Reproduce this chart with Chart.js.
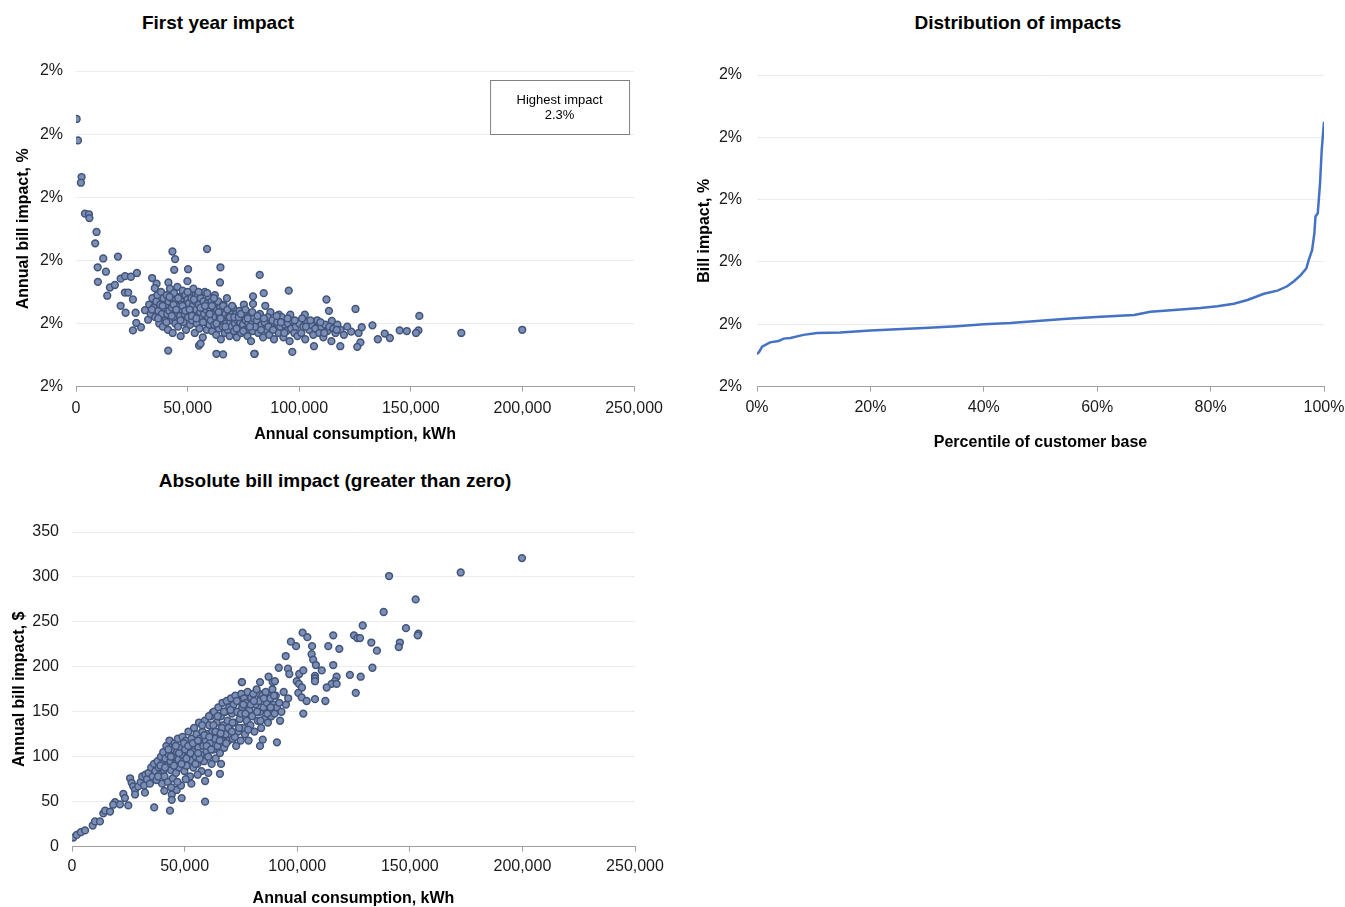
<!DOCTYPE html>
<html>
<head>
<meta charset="utf-8">
<script src="https://cdn.jsdelivr.net/npm/chart.js@4/dist/chart.umd.min.js"></script>
<style>
  html, body { margin: 0; padding: 0; background: #ffffff; overflow: hidden; width: 1345px; height: 907px; }
  .panel { position: absolute; }
  .ttl { position: absolute; transform: translate(-50%, -50%); font-family: 'Liberation Sans', Arial, sans-serif; font-weight: bold; font-size: 19px; color: #000; white-space: nowrap; }
</style>
</head>
<body>
<div class="ttl" style="left:218px; top:23px;">First year impact</div>
<div class="ttl" style="left:1018px; top:23px;">Distribution of impacts</div>
<div class="ttl" style="left:335px; top:481px;">Absolute bill impact (greater than zero)</div>

<canvas id="c1" class="panel" style="left:0px; top:0px;" width="670" height="444"></canvas>
<canvas id="c2" class="panel" style="left:680px; top:0px;" width="700" height="452"></canvas>
<canvas id="c3" class="panel" style="left:0px; top:460px;" width="670" height="448"></canvas>

<script>
// ---------------- DATA ----------------
// First year impact: [annual consumption kWh, annual bill impact %]
const firstYearOutliers = [
  [300,2.324],[900,2.290],[2500,2.232],[2200,2.223],[4000,2.174],[5800,2.173],[6000,2.167],
  [9200,2.145],[8600,2.127],[12200,2.103],[18800,2.106],[9700,2.089],[13400,2.082],[9800,2.066],
  [14000,2.044],[15200,2.057],[17400,2.061],[20000,2.071],[22000,2.075],[24600,2.074],[27300,2.080],
  [21900,2.049],[23400,2.049],[25500,2.038],[20000,2.028],[22200,2.017],[26700,2.017],[25500,1.989],
  [29100,1.994],[27000,2.001],[30900,2.021],[32300,2.006],[34100,2.072],[36100,2.063],[35300,2.056],
  [41400,2.065],[43200,2.114],[44400,2.102],[44000,2.085],[50200,2.086],[49900,2.067],[58700,2.118],
  [64700,2.089],[64500,2.065],[41300,1.957],[55100,1.965],[55800,1.968],[62900,1.952],[65900,1.951],
  [82300,2.077],[80000,1.952],[84100,2.048],[95300,2.052],[79300,2.043],[79300,2.031],[84800,2.028],
  [87100,2.018],[90900,2.014],[96000,2.014],[102500,2.014],[112200,2.038],[113300,2.020],[125200,2.023],
  [114600,2.004],[107600,2.004],[132800,1.997],[123300,1.987],[126600,1.985],[128000,1.994],[138300,1.984],
  [140600,1.977],[145000,1.989],[148200,1.988],[153800,2.012],[153400,1.989],[152300,1.985],[135200,1.975],
  [127400,1.970],[126000,1.963],[118400,1.964],[106600,1.964],[96900,1.955],[79900,1.952],[172600,1.985],
  [199900,1.990]
];
const firstYearCluster = [
  [32800,2.030],[33500,2.015],[34200,2.040],[34800,2.025],[35500,2.010],[36000,2.035],[36400,2.045],[36900,2.020],
  [37300,2.000],[37700,2.030],[38100,2.050],[38500,2.015],[38900,1.995],[39200,2.040],[39600,2.025],[40000,2.005],
  [40300,2.030],[40600,2.045],[40900,2.015],[41200,1.990],[41500,2.035],[41800,2.020],[42100,2.055],[42400,2.005],
  [42700,2.040],[43000,2.025],[43300,1.985],[43600,2.010],[43900,2.048],[44200,2.030],[44500,2.000],[44800,2.038],
  [45100,2.018],[45400,2.058],[45700,1.995],[46000,2.028],[46300,2.042],[46600,2.012],[46900,1.980],[47200,2.035],
  [47500,2.022],[47800,2.052],[48100,2.002],[48400,2.030],[48700,2.015],[49000,2.045],[49300,1.990],[49600,2.025],
  [49900,2.038],[50200,2.010],[50500,2.032],[50800,2.048],[51100,1.998],[51400,2.020],[51700,2.040],[52000,2.005],
  [52300,2.028],[52600,2.055],[52900,2.015],[53200,1.985],[53500,2.035],[53800,2.022],[54100,2.000],[54400,2.045],
  [54700,2.012],[55000,2.030],[55300,1.992],[55600,2.018],[55900,2.040],[56200,2.008],[56500,2.025],[56800,1.978],
  [57100,2.035],[57400,2.015],[57700,2.050],[58000,2.002],[58300,2.022],[58600,1.990],[58900,2.032],[59200,2.010],
  [59500,2.042],[59800,1.998],[60100,2.020],[60400,2.005],[60700,2.035],[61000,1.988],[61300,2.015],[61600,2.028],
  [61900,1.998],[62200,2.045],[62500,2.010],[62800,1.982],[63100,2.022],[63400,2.002],[63700,2.035],[64000,1.992],
  [64300,2.012],[64600,2.025],[64900,1.975],[65200,2.005],[65500,2.018],[65800,1.995],[66100,2.030],[66400,2.008],
  [66700,1.985],[67000,2.015],[67300,2.000],[67600,2.040],[67900,1.990],[68200,2.010],[68500,2.022],[68800,1.980],
  [69100,2.002],[69400,2.015],[69700,1.995],[70000,2.008],[70400,2.025],[70800,1.988],[71200,2.000],[71600,2.015],
  [72000,1.978],[72400,2.005],[72800,1.995],[73200,2.020],[73600,2.002],[74000,1.985],[74400,2.010],[74800,1.998],
  [75200,2.030],[75600,1.990],[76000,2.005],[76400,2.018],[76800,1.980],[77200,2.000],[77600,1.992],[78000,2.012],
  [78400,1.972],[78800,2.002],[79200,1.988],[79600,2.008],[80300,1.995],[81000,2.005],[81700,1.985],[82400,2.015],
  [83100,1.998],[83800,1.978],[84500,2.002],[85200,1.990],[85900,2.010],[86600,1.982],[87300,1.998],[88000,2.005],
  [88700,1.975],[89400,1.992],[90100,2.002],[90800,1.985],[91500,1.995],[92200,2.010],[92900,1.978],[93600,1.998],
  [94300,1.988],[95000,2.000],[95700,1.972],[96400,1.992],[97100,2.004],[97800,1.985],[98500,1.995],[99200,1.980],
  [100000,2.000],[100900,1.985],[101800,1.995],[102700,1.975],[103600,2.002],[104500,1.990],[105400,1.998],[106300,1.982],
  [107200,1.992],[108100,2.005],[109000,1.985],[109900,1.995],[110800,1.978],[111700,1.998],[112600,1.988],[113500,1.995],
  [114400,1.972],[115300,1.992],[116200,1.985],[117100,1.998],[118500,1.990],[120000,1.982],[121500,1.995],
  [34000,2.022],[36800,2.008],[38800,2.028],[40500,2.002],[41900,2.042],[42900,2.012],[43700,2.030],[44900,2.022],
  [45800,2.040],[46800,2.005],[47700,2.028],[48900,2.020],[50000,2.050],[50900,2.022],[51900,2.012],[52800,2.038],
  [53900,2.008],[54900,2.050],[55800,2.025],[56900,2.002],[57800,2.028],[58800,2.048],[59900,2.015],[60900,2.028],
  [61800,2.040],[62900,2.000],[63900,2.018],[64800,2.008],[65900,2.028],[66900,1.995],[67800,2.022],[68900,2.010],
  [69900,2.028],[70900,2.010],[71900,1.992],[72900,2.010],[73900,2.015],[74900,1.988],[75900,2.022],[76900,2.008],
  [77900,1.995],[79000,2.018],[81300,2.012],[82900,1.990],[84200,2.008],[86200,1.995],[88300,1.990],[89900,2.012],
  [91800,2.002],[93300,1.985],[94800,2.008],[98000,2.005],[101300,2.008],[103000,1.995],[105000,2.005],[109500,2.002],
  [111200,1.985],[116800,1.990]
];

// Distribution of impacts: percentile of customer base (%) and bill impact (%)
const percentiles = [0,0.4,0.9,2.3,3.8,4.7,5.9,8.2,10.6,14.7,20,24.7,29.4,35.3,40,44.7,48.8,54.7,60.6,66.5,69.4,72.4,78.2,81.2,84.1,86.5,89.4,91.8,93.5,94.7,95.9,96.9,97.3,97.9,98.3,98.5,98.9,99.3,99.6,100];
const billImpacts = [1.952,1.956,1.964,1.971,1.973,1.977,1.978,1.983,1.986,1.987,1.990,1.992,1.994,1.997,2.000,2.002,2.005,2.009,2.012,2.015,2.020,2.022,2.026,2.029,2.033,2.039,2.049,2.054,2.061,2.069,2.079,2.090,2.103,2.119,2.146,2.173,2.178,2.226,2.280,2.325];

// Absolute bill impact: [annual consumption kWh, annual bill impact $]
const absoluteOutliers = [
  [600,10],[2100,13],[3900,16],[5800,18],[9200,23.5],[10200,28],[12400,28],[13900,37],[14700,40],[16900,39],
  [19100,49.5],[18300,46.6],[21300,47],[22800,58.5],[23500,54],[25000,45.8],[25800,76],[26500,71],[27200,67],
  [28000,63],[29400,67],[28000,58],[32400,60],[36500,43.6],[43500,40],[44300,58],[44300,52],[46500,63],[48700,54],
  [59100,50],[59100,73],[60500,82],[65700,81],[66200,92],[75400,183],[62500,149],[140800,301],[152600,275],
  [138400,261],[129100,246],[148300,243],[153800,237],[153500,235],[145600,227],[145100,222],[135400,218],
  [132900,227],[125200,235],[126700,232],[127900,232],[116000,235],[113800,223],[118700,220],[102400,238],
  [104500,233],[97200,228],[99500,223],[106600,223],[106400,214],[107100,208],[108300,202],[94900,212],
  [91800,199],[95900,198],[96500,192],[100900,192],[102700,196],[110900,196],[116000,202],[133400,199],
  [123400,191],[128200,189],[126000,171],[112500,162],[107900,190],[107900,187],[107900,184],[117500,189],
  [116800,184],[115300,181],[113100,177],[117500,181],[99800,184],[100800,181],[102100,177],[100500,171],
  [102000,166],[104200,162],[107900,164],[102700,148],[83500,183],[83200,170],[85700,170],[87300,189],
  [89100,183],[90100,184],[87300,168],[75500,183],[92400,140],[91000,116],[84700,119],[83500,112],[62700,149],
  [172600,305],[199800,321]
];
const absoluteCluster = [
  [30500,72],[31200,78],[32000,68],[32600,80],[33300,75],[34000,82],[34600,70],[35200,88],[35800,78],[36400,92],
  [37000,84],[37500,74],[38000,95],[38500,88],[39000,80],[39500,100],[40000,92],[40000,70],
  [40500,105],[40800,85],[41100,78],[41500,98],[41900,112],[42200,90],[42600,72],[43000,102],[43300,118],[43700,95],
  [44000,85],[44400,108],[44800,76],[45100,100],[45500,115],[45900,92],[46200,82],[46600,105],[47000,120],[47300,97],
  [47700,88],[48000,110],[48400,68],[48800,102],[49100,122],[49500,95],[49900,84],
  [50200,108],[50600,118],[50900,90],[51300,100],[51700,128],[52000,112],[52400,78],[52800,96],[53100,120],[53500,106],
  [53900,88],[54200,132],[54600,115],[55000,100],[55300,125],[55700,92],[56100,110],[56400,138],[56800,120],[57200,102],
  [57500,84],[57900,128],[58300,112],[58600,95],[59000,140],[59400,118],[59700,106],
  [60100,125],[60500,100],[60900,135],[61200,115],[61600,145],[62000,92],[62300,128],[62700,108],[63100,150],[63500,120],
  [63800,98],[64200,138],[64600,112],[65000,155],[65300,128],[65700,104],[66100,145],[66500,118],[66800,160],[67200,135],
  [67600,110],[68000,150],[68300,125],[68700,162],[69100,140],[69500,118],[69800,155],
  [70200,130],[70600,165],[71000,148],[71400,120],[71800,158],[72100,138],[72500,168],[72900,112],[73300,150],[73700,128],
  [74100,162],[74500,142],[74900,118],[75200,170],[75600,155],[76000,132],[76400,165],[76800,125],[77200,160],[77600,140],
  [78000,172],[78400,118],[78800,152],[79200,135],[79600,166],
  [80000,145],[80500,170],[81000,128],[81500,158],[82000,175],[82500,140],[83000,162],[83500,150],[84000,132],[84500,168],
  [85000,155],[85500,142],[86000,172],[86500,160],[87000,138],[87500,150],[88000,165],[88500,145],[89000,175],[89500,158],
  [90000,148],[90500,168],[91000,155],[92000,160],[93000,150],[94000,172],[95000,158],[96000,165],
  [41000,62],[44000,66],[46800,72],[50500,75],[53000,70],[55800,80],
  [38200,78],[39300,90],[41300,88],[42800,108],[43900,100],[45300,90],[46100,112],[47500,104],[48600,92],[49700,115],
  [50800,98],[51600,112],[52600,104],[53700,115],[54800,92],[55900,118],[56700,98],[57800,135],[58800,124],[59800,112],
  [60800,145],[61800,108],[62800,135],[63700,128],[64700,145],[65600,118],[66600,132],[67500,150],[68500,115],[69500,132],
  [70400,152],[71300,138],[72300,122],[73200,162],[74200,132],[75100,148],[76100,158],[77000,148],[78200,130],[79400,158],
  [80800,162],[82200,150],[83700,140],[85200,165],[86700,148],[88200,155],[89700,168],[56000,104],[61000,122],[66000,126],
  [71000,128]
];

const consumptionTicks = { min: 0, max: 250000, step: 50000 };
const impactPctTicks = { min: 1.9, max: 2.4, step: 0.1 };
const percentileTicks = { min: 0, max: 100, step: 20 };
const dollarTicks = { min: 0, max: 350, step: 50 };
const highestImpactNote = ['Highest impact', '2.3%'];

// ---------------- STYLE ----------------
const FONT = "'Liberation Sans', Arial, sans-serif";
Chart.defaults.font.family = FONT;
Chart.defaults.font.size = 16;
Chart.defaults.color = '#1a1a1a';

const POINT_BG = '#7b8fb6';
const POINT_BORDER = '#43547a';
const GRID = '#ececec';
const AXIS = '#a0a0a0';

function toXY(pairs) { return pairs.map(p => ({ x: p[0], y: p[1] })); }

function xScale(t, title, labelPad, titlePadTop, fmt) {
  return {
    type: 'linear', min: t.min, max: t.max,
    ticks: { stepSize: t.step, padding: labelPad, color: '#1a1a1a', font: { size: 16 }, callback: fmt, maxRotation: 0, autoSkip: false },
    grid: { drawOnChartArea: false, drawTicks: true, tickLength: 5, color: AXIS, tickColor: AXIS },
    border: { display: true, color: AXIS, width: 1 },
    title: { display: true, text: title, font: { size: 16, weight: 'bold' }, color: '#000', padding: { top: titlePadTop, bottom: 0 } }
  };
}
function yScale(t, title, width, labelPad, titlePad, fmt) {
  return {
    type: 'linear', min: t.min, max: t.max,
    afterFit(s) { s.width = width; },
    ticks: { stepSize: t.step, padding: labelPad, color: '#1a1a1a', font: { size: 16 }, callback: fmt },
    grid: { color: GRID, drawTicks: false, lineWidth: 1 },
    border: { display: false },
    title: { display: true, text: title, font: { size: 16, weight: 'bold' }, color: '#000', padding: { top: titlePad, bottom: 0 } }
  };
}
const fmtThousands = v => Number(v).toLocaleString('en-US');
const fmtPct = v => Math.round(v) + '%';

const noteBox = {
  id: 'noteBox',
  afterDraw(chart) {
    const a = chart.chartArea, c = chart.ctx;
    const w = 139, h = 54;
    const x = a.right - 144, y = a.top + 9;
    c.save();
    c.fillStyle = '#ffffff';
    c.fillRect(x, y, w, h);
    c.strokeStyle = '#808080';
    c.lineWidth = 1;
    c.strokeRect(x + 0.5, y + 0.5, w, h);
    c.fillStyle = '#000';
    c.font = '13px ' + FONT;
    c.textAlign = 'center';
    c.textBaseline = 'middle';
    c.fillText(highestImpactNote[0], x + w / 2, y + 20);
    c.fillText(highestImpactNote[1], x + w / 2, y + 35);
    c.restore();
  }
};

const common = {
  responsive: false, animation: false, devicePixelRatio: 1,
  plugins: { legend: { display: false }, tooltip: { enabled: false }, title: { display: false } }
};

// Chart 1: First year impact
new Chart(document.getElementById('c1'), {
  type: 'scatter',
  data: { datasets: [{
    data: toXY(firstYearOutliers.concat(firstYearCluster)),
    pointRadius: 3.4, pointBackgroundColor: POINT_BG, pointBorderColor: POINT_BORDER, pointBorderWidth: 1.5
  }] },
  options: Object.assign({}, common, {
    layout: { padding: { left: 0, top: 71, right: 35, bottom: 0 } },
    scales: {
      x: xScale(consumptionTicks, 'Annual consumption, kWh', 7, 0, fmtThousands),
      y: yScale(impactPctTicks, 'Annual bill impact, %', 76, 13, 14, fmtPct)
    }
  }),
  plugins: [noteBox]
});

// Chart 2: Distribution of impacts
new Chart(document.getElementById('c2'), {
  type: 'scatter',
  data: { datasets: [{
    data: percentiles.map((p, i) => ({ x: p, y: billImpacts[i] })),
    showLine: true, borderColor: '#4472C4', borderWidth: 2.5, pointRadius: 0, tension: 0, fill: false
  }] },
  options: Object.assign({}, common, {
    layout: { padding: { left: 0, top: 75, right: 56, bottom: 0 } },
    scales: {
      x: xScale(percentileTicks, 'Percentile of customer base', 6, 10, v => v + '%'),
      y: yScale(impactPctTicks, 'Bill impact, %', 77, 15, 15, fmtPct)
    }
  })
});

// Chart 3: Absolute bill impact
new Chart(document.getElementById('c3'), {
  type: 'scatter',
  data: { datasets: [{
    data: toXY(absoluteOutliers.concat(absoluteCluster)),
    pointRadius: 3.4, pointBackgroundColor: POINT_BG, pointBorderColor: POINT_BORDER, pointBorderWidth: 1.5
  }] },
  options: Object.assign({}, common, {
    layout: { padding: { left: 0, top: 72, right: 35, bottom: 0 } },
    scales: {
      x: xScale(consumptionTicks, 'Annual consumption, kWh', 5, 8, fmtThousands),
      y: yScale(dollarTicks, 'Annual bill impact, $', 72, 13, 10, v => v)
    }
  })
});
</script>
</body>
</html>
